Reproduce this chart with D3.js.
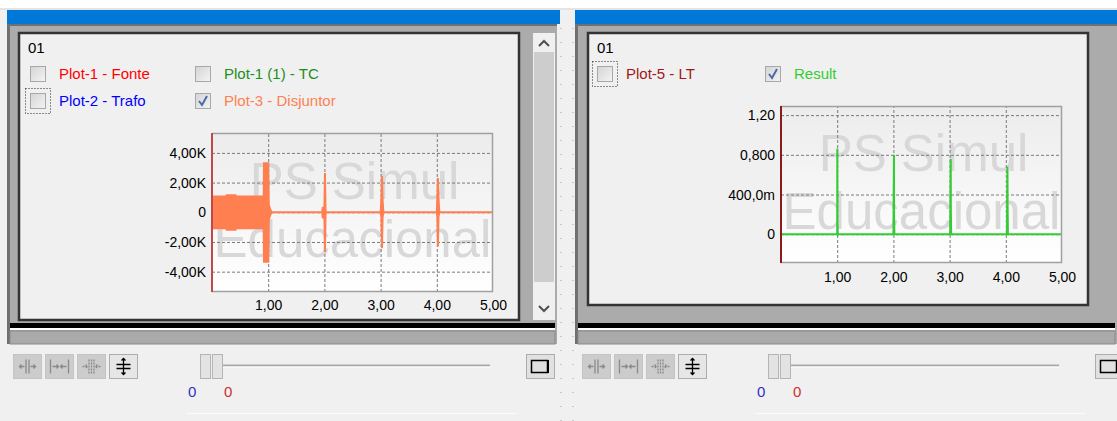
<!DOCTYPE html>
<html>
<head>
<meta charset="utf-8">
<script src="https://cdn.jsdelivr.net/npm/d3@7"></script>
<style>
  body { margin: 0; background: #f0f0f0; }
  svg { display: block; }
</style>
</head>
<body>
<script>
const WIDTH = 1117;
const HEIGHT = 421;
const FONT = "'Liberation Sans', Arial, sans-serif";

// ---- data ----
const xTicks = [1, 2, 3, 4, 5];
const xTickLabels = ["1,00", "2,00", "3,00", "4,00", "5,00"];

const leftYTicks = [4000, 2000, 0, -2000, -4000];
const leftYLabels = ["4,00K", "2,00K", "0", "-2,00K", "-4,00K"];

const rightYTicks = [1.2, 0.8, 0.4, 0];
const rightYLabels = ["1,20", "0,800", "400,0m", "0"];

const leftLegend = [
  { name: "Plot-1 - Fonte", color: "#ff0000", checked: false, focus: false },
  { name: "Plot-2 - Trafo", color: "#0000ff", checked: false, focus: true },
  { name: "Plot-1 (1) - TC", color: "#1a8f1a", checked: false, focus: false },
  { name: "Plot-3 - Disjuntor", color: "#ff8050", checked: true, focus: false }
];
const rightLegend = [
  { name: "Plot-5 - LT", color: "#a01818", checked: false, focus: true },
  { name: "Result", color: "#33cc33", checked: true, focus: false }
];

// Plot-3 envelope: [time, min, max]
const disjuntorEnvelope = [
  [0, -1075, 1055], [0.25, -1075, 1055], [0.26, -1180, 1150], [0.42, -1180, 1150],
  [0.43, -1075, 1055], [0.92, -1075, 1055], [0.925, -3330, 3300], [1.0, -3330, 3300],
  [1.01, -500, 500], [1.04, -150, 150], [1.06, 0, 0],
  [1.96, 0, 0], [1.97, -350, 300], [2.0, -350, 300], [2.01, -2670, 2650], [2.02, -150, 150], [2.03, 0, 0],
  [3.0, 0, 0], [3.015, -330, 830], [3.025, -2400, 2450], [3.035, -330, 830], [3.05, 0, 0],
  [4.0, 0, 0], [4.01, -300, 1000], [4.02, -2300, 2300], [4.03, -300, 1000], [4.045, 0, 0],
  [5, 0, 0]
];

// Result: [time, value]
const resultSeries = [
  [0, 0], [1.0, 0], [1.002, 0.864], [1.004, 0.137], [1.01, 0],
  [2.0, 0], [2.01, 0.80], [2.012, 0.19], [2.018, 0],
  [3.01, 0], [3.02, 0.757], [3.022, 0.25], [3.028, 0],
  [4.02, 0], [4.03, 0.68], [4.032, 0.32], [4.038, 0],
  [5, 0]
];

const svg = d3.select("body")
              .append("svg")
              .attr("width", WIDTH)
              .attr("height", HEIGHT)
              .style("font-family", FONT);

const defs = svg.append("defs");
const grad = defs.append("linearGradient")
                 .attr("id", "plotbg")
                 .attr("x1", 0).attr("y1", 0).attr("x2", 0).attr("y2", 1);
grad.append("stop").attr("offset", "0%").attr("stop-color", "#ececec");
grad.append("stop").attr("offset", "100%").attr("stop-color", "#ffffff");

const cbGrad = defs.append("linearGradient")
                   .attr("id", "cbbg")
                   .attr("x1", 0).attr("y1", 0).attr("x2", 1).attr("y2", 1);
cbGrad.append("stop").attr("offset", "0%").attr("stop-color", "#d4d4d4");
cbGrad.append("stop").attr("offset", "100%").attr("stop-color", "#f4f4f4");

// ---- window chrome ----
svg.append("rect").attr("width", WIDTH).attr("height", HEIGHT).attr("fill", "#f0f0f0");
svg.append("rect").attr("width", WIDTH).attr("height", 8).attr("fill", "#ffffff");
svg.append("rect").attr("y", 8).attr("width", WIDTH).attr("height", 2).attr("fill", "#e4e4e4");

// dotted separators
[561, 573].forEach(x => {
  svg.append("line")
     .attr("x1", x).attr("x2", x).attr("y1", 28).attr("y2", 421)
     .attr("stroke", "#a0a0a0").attr("stroke-width", 1)
     .attr("stroke-dasharray", "1,13");
});

const drawFrame = (x0, x1, blueEnd, box, scroll) => {
  const g = svg.append("g");
  g.append("rect").attr("x", x0).attr("y", 10).attr("width", blueEnd - x0).attr("height", 14).attr("fill", "#0078d7");
  g.append("rect").attr("x", x0).attr("y", 24).attr("width", x1 - x0).attr("height", 320).attr("fill", "#ababab");
  g.append("rect").attr("x", x0).attr("y", 24).attr("width", x1 - x0).attr("height", 2).attr("fill", "#707070");
  g.append("rect").attr("x", x0).attr("y", 24).attr("width", 3).attr("height", 320).attr("fill", "#707070");

  g.append("rect")
   .attr("x", box.x).attr("y", 33).attr("width", box.w).attr("height", box.bottom - 33)
   .attr("fill", "#f0f0f0").attr("stroke", "#333").attr("stroke-width", 2.5);

  if (scroll) {
    g.append("rect").attr("x", 533).attr("y", 33).attr("width", 22).attr("height", 287).attr("fill", "#f0f0f0");
    g.append("rect").attr("x", 534).attr("y", 52).attr("width", 20).attr("height", 230).attr("fill", "#cdcdcd");
    g.append("path").attr("d", "M539,46 L544,41 L549,46").attr("fill", "none").attr("stroke", "#505050").attr("stroke-width", 2);
    g.append("path").attr("d", "M539,306 L544,311 L549,306").attr("fill", "none").attr("stroke", "#505050").attr("stroke-width", 2);
  }

  g.append("rect").attr("x", x0 + 3).attr("y", 323).attr("width", x1 - x0 - 5).attr("height", 5).attr("fill", "#000");
  g.append("rect").attr("x", x0 + 3).attr("y", 328).attr("width", x1 - x0 - 5).attr("height", 2).attr("fill", "#ffffff");
  g.append("rect").attr("x", x0 + 3).attr("y", 331).attr("width", x1 - x0 - 5).attr("height", 13)
   .attr("fill", "#aaaaaa").attr("stroke", "#888").attr("stroke-width", 1);

  g.append("text").attr("x", box.x + 9).attr("y", 53).attr("font-size", 15).attr("fill", "#000").text("01");
};

const drawCheckbox = (x, y, item) => {
  const g = svg.append("g");
  if (item.focus) {
    g.append("rect").attr("x", x - 4.5).attr("y", y - 4.5).attr("width", 25).attr("height", 25)
     .attr("fill", "none").attr("stroke", "#222").attr("stroke-width", 1)
     .attr("stroke-dasharray", "1,2");
  }
  g.append("rect").attr("x", x + 0.5).attr("y", y + 0.5).attr("width", 15).attr("height", 15)
   .attr("fill", "url(#cbbg)").attr("stroke", "#a8a8a8");
  if (item.checked) {
    g.append("path").attr("d", `M${x + 4},${y + 8} L${x + 7},${y + 12} L${x + 12},${y + 3}`)
     .attr("fill", "none").attr("stroke", "#4a6aa8").attr("stroke-width", 2);
  }
};

const drawLegend = (items, positions) => {
  items.forEach((d, i) => {
    const p = positions[i];
    drawCheckbox(p[0], p[1], d);
    svg.append("text")
       .attr("x", p[0] + 29).attr("y", p[1] + 13)
       .attr("font-size", 15).attr("fill", d.color)
       .text(d.name);
  });
};

const drawButtons = (bx, sx, nx, trackEnd, maxX) => {
  const g = svg.append("g");
  const icons = [
    "M-8,0 H-3 M-6,-2 L-8,0 L-6,2 M8,0 H3 M6,-2 L8,0 L6,2 M-1.5,-7 V7 M1.5,-7 V7",
    "M-9,-7 V7 M9,-7 V7 M-7,0 H-1 M-3,-2 L-1,0 L-3,2 M7,0 H1 M3,-2 L1,0 L3,2",
    "M-2.5,-7 V7 M0,-7 V7 M2.5,-7 V7 M-9,0 H-4 M-6,-2 L-4,0 L-6,2 M9,0 H4 M6,-2 L4,0 L6,2",
    "M-7,-2 H7 M-7,2 H7 M0,-8 V8 M-2,-6 L0,-8 L2,-6 M-2,6 L0,8 L2,6"
  ];
  icons.forEach((d, i) => {
    const x = bx + i * 32;
    const active = i === 3;
    g.append("rect").attr("x", x + 0.5).attr("y", 354.5).attr("width", 28).attr("height", 24)
     .attr("fill", active ? "#e6e6e6" : "#cccccc").attr("stroke", active ? "#adadad" : "#c4c4c4");
    g.append("path").attr("transform", `translate(${x + 14.5},366.5)`).attr("d", d)
     .attr("fill", "none").attr("stroke", active ? "#000" : "#8a8a8a")
     .attr("stroke-width", 1.3)
     .attr("stroke-dasharray", i === 2 ? "2,1" : null);
  });
  // slider
  g.append("rect").attr("x", sx + 23).attr("y", 364.5).attr("width", trackEnd - sx - 23).attr("height", 2)
   .attr("fill", "#a8a8a8");
  g.append("rect").attr("x", sx + 23).attr("y", 366.5).attr("width", trackEnd - sx - 23).attr("height", 1)
   .attr("fill", "#ffffff");
  [0, 12].forEach(o => {
    g.append("rect").attr("x", sx + o + 0.5).attr("y", 354.5).attr("width", 10).attr("height", 24)
     .attr("fill", "#e3e3e3").attr("stroke", "#b4b4b4");
  });
  g.append("text").attr("x", nx).attr("y", 397).attr("font-size", 15).attr("fill", "#3030c0").text("0");
  g.append("text").attr("x", nx + 36).attr("y", 397).attr("font-size", 15).attr("fill", "#c83030").text("0");
  g.append("line").attr("x1", nx - 2).attr("x2", trackEnd + 27).attr("y1", 413.5).attr("y2", 413.5)
   .attr("stroke", "#fbfbfb");
  // maximize button
  g.append("rect").attr("x", maxX + 0.5).attr("y", 354.5).attr("width", 28).attr("height", 24)
   .attr("fill", "#e1e1e1").attr("stroke", "#adadad");
  g.append("rect").attr("x", maxX + 5.5).attr("y", 360.5).attr("width", 16).attr("height", 12)
   .attr("fill", "none").attr("stroke", "#000").attr("stroke-width", 1.5);
  g.append("line").attr("x1", maxX + 22).attr("x2", maxX + 22).attr("y1", 360).attr("y2", 373)
   .attr("stroke", "#000").attr("stroke-width", 2);
};

const drawPlot = (cfg) => {
  const { x, y, yTicks, yLabels, axisColor, id } = cfg;
  const [x0, x1] = x.range();
  const [y1, y0] = y.range();
  const g = svg.append("g");

  defs.append("clipPath").attr("id", id)
      .append("rect").attr("x", x0).attr("y", y0).attr("width", x1 - x0).attr("height", y1 - y0);

  g.append("rect").attr("x", x0).attr("y", y0).attr("width", x1 - x0).attr("height", y1 - y0)
   .attr("fill", "url(#plotbg)");

  const cx = (x0 + x1) / 2;
  const cy = (y0 + y1) / 2;
  const wm = g.append("g").attr("clip-path", `url(#${id})`)
              .attr("font-size", 51).attr("fill", "#d8d8d8").attr("text-anchor", "middle");
  wm.append("text").attr("x", cx + 2).attr("y", cy - 13.5).text("PS Simul");
  wm.append("text").attr("x", cx).attr("y", cy + 44.5).text("Educacional");

  // grid
  g.append("g")
   .attr("transform", `translate(0,${y1})`)
   .call(d3.axisBottom(x).tickValues(xTicks.slice(0, -1)).tickSize(-(y1 - y0)).tickFormat(""))
   .call(a => a.select(".domain").remove())
   .call(a => a.selectAll("line").attr("stroke", "#7a7a7a").attr("stroke-dasharray", "3,2"));
  g.append("g")
   .attr("transform", `translate(${x0},0)`)
   .call(d3.axisLeft(y).tickValues(yTicks).tickSize(-(x1 - x0)).tickFormat(""))
   .call(a => a.select(".domain").remove())
   .call(a => a.selectAll("line").attr("stroke", "#7a7a7a").attr("stroke-dasharray", "3,2"));

  cfg.drawSeries(g.append("g").attr("clip-path", `url(#${id})`));

  // borders
  g.append("path").attr("d", `M${x0},${y0 + 0.5} H${x1 - 0.5} V${y1 - 0.5} H${x0}`)
   .attr("fill", "none").attr("stroke", "#a0a0a0").attr("stroke-width", 1.5);
  g.append("line").attr("x1", x0).attr("x2", x0).attr("y1", y0).attr("y2", y1)
   .attr("stroke", axisColor).attr("stroke-width", 2);

  // labels
  g.append("g")
   .attr("transform", `translate(${x0 - 1},0)`)
   .call(d3.axisLeft(y).tickValues(yTicks).tickSize(0).tickPadding(5)
           .tickFormat((d, i) => yLabels[i]))
   .call(a => a.select(".domain").remove())
   .call(a => a.selectAll("text").attr("font-family", FONT).attr("font-size", 14).attr("fill", "#000"));
  g.append("g")
   .attr("transform", `translate(0,${y1})`)
   .call(d3.axisBottom(x).tickValues(xTicks).tickSize(0).tickPadding(cfg.xPad)
           .tickFormat((d, i) => xTickLabels[i]))
   .call(a => a.select(".domain").remove())
   .call(a => a.selectAll("text").attr("font-family", FONT).attr("font-size", 14).attr("fill", "#000"));
};

// ---- left panel ----
drawFrame(7, 557, 560, { x: 19, w: 500, bottom: 320 }, true);
drawLegend(leftLegend, [[30, 66], [30, 93], [195, 66], [195, 93]]);

const leftX = d3.scaleLinear().domain([0, 5]).range([212, 493]);
const leftY = d3.scaleLinear().domain([-5370, 5340]).range([292, 133]);
drawPlot({
  id: "clipL", x: leftX, y: leftY, yTicks: leftYTicks, yLabels: leftYLabels,
  axisColor: "#c04848", xPad: 8,
  drawSeries: (g) => {
    g.append("path")
     .datum(disjuntorEnvelope)
     .attr("d", d3.area().x(d => leftX(d[0])).y0(d => leftY(d[1])).y1(d => leftY(d[2])))
     .attr("fill", "#ff7f50").attr("stroke", "#ff7f50").attr("stroke-width", 2);
  }
});
drawButtons(13, 200, 188, 490, 526);

// ---- right panel ----
drawFrame(575, 1117, 1117, { x: 588, w: 500, bottom: 305 }, false);
drawLegend(rightLegend, [[597, 66], [765, 66]]);

const rightX = d3.scaleLinear().domain([0, 5]).range([781, 1062]);
const rightY = d3.scaleLinear().domain([-0.29, 1.292]).range([263, 106]);
drawPlot({
  id: "clipR", x: rightX, y: rightY, yTicks: rightYTicks, yLabels: rightYLabels,
  axisColor: "#8b1a1a", xPad: 9,
  drawSeries: (g) => {
    g.append("path")
     .datum(resultSeries)
     .attr("d", d3.line().x(d => rightX(d[0])).y(d => rightY(d[1])))
     .attr("fill", "none").attr("stroke", "#33cc33").attr("stroke-width", 2);
  }
});
drawButtons(582, 768, 757, 1059, 1095);
</script>
</body>
</html>
